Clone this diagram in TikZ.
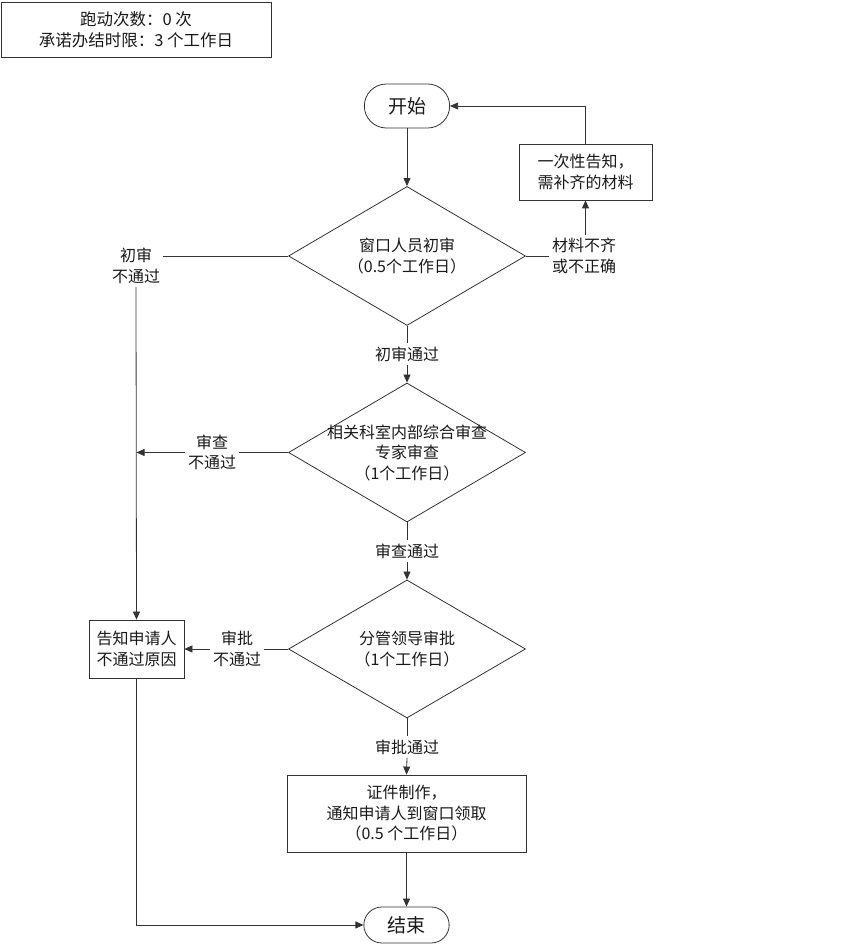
\documentclass[tikz,border=0pt]{standalone}
\usepackage{fontspec}
\newfontfamily\cjk{Noto Sans CJK SC}
\usetikzlibrary{arrows.meta, shapes.geometric, shapes.misc, calc}
\tikzset{
    my-text/.style={
        font=\cjk\fontsize{16}{20.5}\selectfont, align=center, text=black!90
    },
    my-terminal/.style={
        my-text, rounded rectangle, draw=black!80, line width=0.8pt,
        font=\cjk\fontsize{19}{22}\selectfont, minimum width=92pt, minimum height=44pt
    },
    my-decision/.style={
        my-text, diamond, aspect=1.7, draw=black!80, line width=0.8pt, inner sep=-6pt,
        minimum width=237pt, minimum height=139pt
    },
    my-process/.style={
        my-text, rectangle, draw=black!80, line width=0.8pt, inner sep=3pt
    },
    my-label/.style={
        my-text, inner sep=3pt
    },
    my-wire/.style={
        draw=black!80, line width=0.8pt
    },
    my-arrow/.style={
        my-wire, -{Triangle[length=8pt, width=7pt]}
    },
}

\begin{document}
\begin{tikzpicture}[x=1pt, y=1pt]
        \useasboundingbox (0,0) rectangle (841,947);

        % INFO
        \node[my-process, minimum width=270pt, minimum height=55pt,
              font=\cjk\fontsize{16.5}{21}\selectfont] (INFO) at (136,917.5)
              {跑动次数：0 次\\承诺办结时限：3 个工作日};

        % START AND END
        \node[my-terminal]                      (START) at (407,841)   {开始};
        \node[my-terminal, minimum height=36pt] (END)   at (406.5,22)  {结束};

        % DECISIONS
        \node[my-decision] (CHECK)   at (407,691)   {窗口人员初审\\（0.5个工作日）};
        \node[my-decision] (REVIEW)  at (407,494.5) {相关科室内部综合审查\\专家审查\\（1个工作日）};
        \node[my-decision, minimum height=138pt]
                           (APPROVE) at (407,298)   {分管领导审批\\（1个工作日）};

        % PROCESS BOXES
        \node[my-process, minimum width=133pt, minimum height=56pt] (SUPPLY) at (585.5,775)
              {一次性告知，\\需补齐的材料};
        \node[my-process, minimum width=95pt, minimum height=58pt]  (REJECT) at (136.5,298)
              {告知申请人\\不通过原因};
        \node[my-process, minimum width=239pt, minimum height=77pt] (ISSUE)  at (406.5,133.5)
              {证件制作，\\通知申请人到窗口领取\\（0.5 个工作日）};

        % LABELS
        \node[my-label] (CHECKNO)    at (136,681)  {初审\\不通过};
        \node[my-label] (CHECKLACK)  at (584,691)  {材料不齐\\或不正确};
        \node[my-label] (CHECKOK)    at (407,593)  {初审通过};
        \node[my-label] (REVIEWNO)   at (212,494.5){审查\\不通过};
        \node[my-label] (REVIEWOK)   at (407,396)  {审查通过};
        \node[my-label] (APPROVENO)  at (237,298)  {审批\\不通过};
        \node[my-label] (APPROVEOK)  at (407,200)  {审批通过};

        % MAIN FLOW
        \draw[my-arrow] (START.south)   -- (CHECK.north);
        \draw[my-wire]  (CHECK.south)   -- (CHECKOK.north);
        \draw[my-arrow] (CHECKOK.south) -- (REVIEW.north);
        \draw[my-wire]  (REVIEW.south)  -- (REVIEWOK.north);
        \draw[my-arrow] (REVIEWOK.south) -- (APPROVE.north);
        \draw[my-wire]  (APPROVE.south) -- (APPROVEOK.north);
        \draw[my-arrow] (APPROVEOK.south) -- (ISSUE.north);
        \draw[my-arrow] (ISSUE.south)   -- (END.north);

        % MISSING MATERIALS
        \draw[my-wire]  (CHECK.east) -- (CHECKLACK.west |- CHECK.east);
        \draw[my-arrow] (SUPPLY.south |- CHECKLACK.north) -- (SUPPLY.south);
        \draw[my-arrow] (SUPPLY.north) |- (START.east);

        % REJECTIONS
        \draw[my-wire]  (CHECK.west) -- (CHECKNO.east |- CHECK.west);
        \draw[my-arrow] (CHECKNO.south) -- (REJECT.north);
        \draw[my-wire]  (REVIEW.west) -- (REVIEWNO.east);
        \draw[my-arrow] (REVIEWNO.west) -- (REJECT.north |- REVIEW.west);
        \draw[my-wire]  (APPROVE.west) -- (APPROVENO.east);
        \draw[my-arrow] (APPROVENO.west) -- (REJECT.east);
        \draw[my-arrow] (REJECT.south) |- (END.west);

    \end{tikzpicture}
\end{document}
